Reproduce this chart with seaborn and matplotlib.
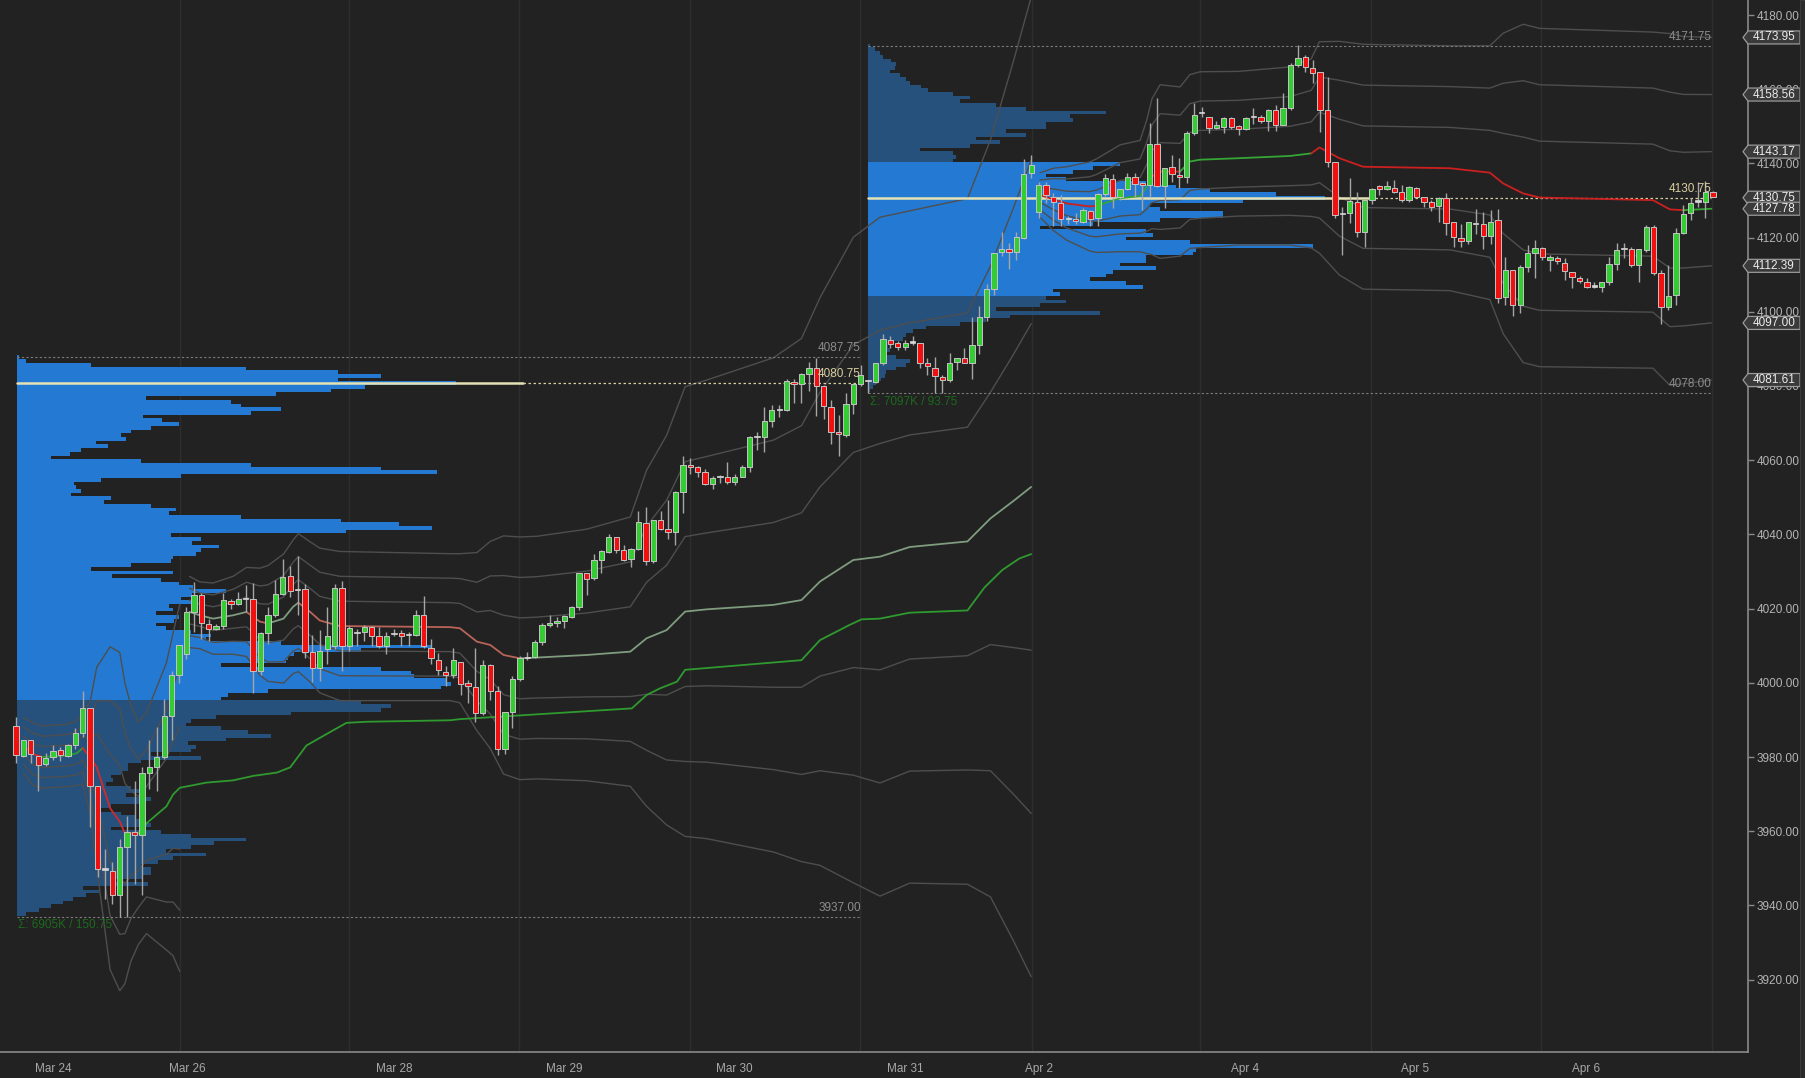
import numpy as np
import pandas as pd
import matplotlib
matplotlib.use("Agg")
import matplotlib.pyplot as plt
from matplotlib.patches import Polygon, Rectangle
from matplotlib.transforms import blended_transform_factory
import seaborn as sns

# ---------------- DATA ----------------
# hourly candles (bar index 0..229)
opens = [
    3988.4, 3980.4, 3984.5, 3980.4, 3978.1, 3979.9, 3981.8, 3980.4, 3983.1, 3986.5,
    3993.3, 3972.2, 3949.6, 3949.4, 3942.7, 3955.8, 3959.9, 3959.0, 3975.6, 3977.2,
    3979.9, 3991.0, 4002.2, 4007.7, 4019.1, 4023.8, 4015.9, 4014.5, 4015.4, 4022.1,
    4021.2, 4022.5, 4022.5, 4003.1, 4013.3, 4018.2, 4023.9, 4028.7, 4025.0, 4025.3,
    4008.4, 4004.1, 4009.1, 4010.0, 4025.5, 4010.0, 4013.3, 4013.6, 4015.0, 4012.5,
    4010.0, 4013.2, 4013.4, 4012.9, 4013.0, 4018.4, 4009.5, 4006.1, 4003.0,
    4002.1, 4005.7, 3999.9, 3999.0, 3991.8, 4004.8, 3997.9, 3982.1, 3992.2, 4000.9,
    4006.6, 4006.9, 4011.1, 4015.6, 4016.0, 4016.7, 4017.8, 4020.5, 4029.5, 4028.2,
    4033.1, 4035.3, 4039.2, 4035.8, 4033.3, 4036.0, 4043.0, 4032.9, 4043.9, 4041.5,
    4040.7, 4051.5, 4058.7, 4058.1, 4056.7, 4053.6, 4055.4, 4055.6, 4054.2, 4055.6,
    4058.1, 4066.3, 4066.2, 4070.7, 4073.4, 4073.5, 4081.2, 4080.5, 4083.2, 4084.8,
    4080.0, 4074.4, 4067.5, 4066.8, 4075.2, 4080.5,
    4081.4, 4081.2, 4086.1, 4092.4, 4091.5, 4090.6, 4091.7, 4091.7, 4086.1, 4084.8,
    4082.3, 4081.6, 4086.6, 4087.5, 4086.1, 4091.1, 4098.5, 4106.1, 4116.0, 4116.8,
    4116.0, 4119.8, 4137.3, 4127.0, 4134.2, 4131.0, 4129.4, 4125.0, 4125.1, 4124.3,
    4127.3, 4125.2, 4131.7, 4135.7, 4130.9, 4133.0, 4136.2, 4134.6, 4134.2, 4145.2,
    4134.0, 4139.0, 4136.9, 4136.4, 4148.1, 4153.5, 4152.4, 4149.6, 4149.9, 4152.2,
    4150.1, 4149.2, 4152.4, 4152.6, 4151.3, 4154.4, 4150.4, 4154.8, 4166.5,
    4168.6, 4165.6, 4164.7, 4154.4, 4140.4, 4126.4, 4126.5, 4129.7, 4121.6, 4130.1,
    4134.0, 4133.0, 4133.5, 4132.4, 4130.1, 4133.5, 4131.0, 4129.7, 4128.5, 4130.8,
    4124.3, 4119.8, 4119.2, 4124.0, 4123.6, 4120.4, 4124.7, 4104.1, 4111.3, 4101.8,
    4112.2, 4115.8, 4117.1, 4114.0, 4114.4, 4113.2, 4110.8, 4109.0, 4108.1, 4106.8,
    4106.8, 4107.9, 4113.0, 4116.8, 4116.8, 4112.6, 4116.6, 4122.8, 4110.5, 4101.4,
    4104.5, 4121.3, 4126.5, 4129.7, 4129.7, 4132.4,
]
closes = [
    3980.5, 3984.5, 3980.8, 3977.8, 3979.6, 3981.5, 3980.5, 3983.1, 3986.5, 3993.3,
    3972.2, 3949.8, 3949.6, 3942.7, 3955.8, 3959.9, 3959.0, 3975.6, 3977.2, 3979.9,
    3991.0, 4002.2, 4010.2, 4019.1, 4023.8, 4016.2, 4014.5, 4015.4, 4022.3, 4021.2,
    4022.6, 4022.5, 4003.1, 4013.3, 4018.4, 4023.9, 4028.5, 4024.8, 4025.0, 4008.2,
    4004.1, 4008.6, 4012.7, 4025.5, 4010.0, 4014.7, 4013.3, 4015.0, 4012.7, 4009.8,
    4012.7, 4013.2, 4012.5, 4012.9, 4018.4, 4010.0, 4006.8, 4003.4, 4002.2,
    4006.1, 3999.7, 3999.1, 3991.8, 4004.8, 3997.9, 3982.1, 3992.2, 4000.9, 4006.6,
    4006.6, 4011.1, 4015.6, 4016.0, 4016.7, 4018.0, 4020.3, 4029.5, 4027.9, 4033.1,
    4035.6, 4039.2, 4035.8, 4033.1, 4036.0, 4043.4, 4032.9, 4043.9, 4041.4, 4040.7,
    4051.5, 4058.7, 4058.1, 4056.9, 4053.6, 4055.1, 4055.7, 4054.2, 4055.6, 4058.1,
    4066.3, 4066.3, 4070.7, 4073.4, 4073.8, 4081.4, 4080.5, 4083.2, 4084.8, 4080.0,
    4074.6, 4067.5, 4067.1, 4075.2, 4080.5, 4083.0,
    4081.4, 4086.1, 4092.6, 4091.3, 4090.4, 4091.5, 4091.7, 4086.3, 4085.4, 4082.7,
    4081.6, 4086.1, 4087.5, 4086.3, 4091.1, 4098.7, 4106.1, 4115.8, 4116.8, 4116.0,
    4120.1, 4137.1, 4139.6, 4134.2, 4131.5, 4129.7, 4125.0, 4125.0, 4124.6, 4127.5,
    4125.0, 4131.7, 4136.0, 4130.9, 4133.0, 4136.4, 4134.4, 4134.2, 4145.2, 4134.0,
    4138.7, 4137.2, 4136.4, 4148.1, 4153.1, 4153.5, 4149.5, 4150.4, 4152.2, 4149.9,
    4149.2, 4152.2, 4152.4, 4151.3, 4154.4, 4150.4, 4154.8, 4166.5, 4168.3,
    4165.9, 4164.4, 4154.4, 4140.4, 4126.1, 4126.4, 4129.9, 4121.6, 4130.1, 4133.0,
    4133.1, 4133.9, 4132.4, 4130.1, 4133.7, 4131.0, 4129.7, 4128.2, 4130.8, 4124.0,
    4120.1, 4119.2, 4124.3, 4123.6, 4120.4, 4124.3, 4103.6, 4111.3, 4101.8, 4112.2,
    4115.8, 4117.1, 4114.7, 4114.9, 4113.8, 4111.1, 4109.3, 4108.4, 4106.8, 4106.8,
    4107.9, 4112.9, 4116.6, 4116.8, 4112.6, 4116.8, 4122.8, 4110.5, 4101.4, 4104.3,
    4121.2, 4126.4, 4129.2, 4129.7, 4132.4, 4131.0,
]
highs = [
    3990.7, 3984.5, 3984.5, 3980.4, 3981.0, 3983.1, 3982.6, 3983.5, 3987.8, 3997.7,
    3993.3, 3972.2, 3955.3, 3951.7, 3958.0, 3964.0, 3973.5, 3977.2, 3984.5, 3988.1,
    3995.6, 4003.1, 4010.2, 4020.5, 4027.3, 4024.1, 4017.3, 4015.9, 4024.1, 4022.7,
    4024.6, 4026.4, 4026.8, 4013.8, 4020.5, 4027.7, 4033.5, 4031.4, 4034.1, 4026.6,
    4013.0, 4014.1, 4020.5, 4026.6, 4027.5, 4015.3, 4014.5, 4015.6, 4015.4, 4015.0,
    4013.8, 4014.5, 4014.1, 4013.6, 4019.5, 4023.5, 4011.8, 4008.1, 4004.5,
    4009.3, 4005.7, 4000.8, 4009.3, 4006.1, 4005.2, 3999.1, 3992.2, 4001.7, 4007.1,
    4008.4, 4011.5, 4016.0, 4018.3, 4017.8, 4018.3, 4020.7, 4029.7, 4029.5, 4034.7,
    4035.8, 4040.1, 4039.2, 4037.1, 4036.3, 4046.4, 4047.5, 4043.9, 4046.4, 4049.3,
    4051.6, 4061.0, 4060.5, 4058.5, 4057.5, 4055.8, 4056.0, 4059.6, 4056.3, 4058.7,
    4066.5, 4067.7, 4074.4, 4074.9, 4074.9, 4081.8, 4081.8, 4083.6, 4086.4, 4087.6,
    4080.0, 4076.2, 4072.2, 4078.0, 4080.5, 4085.7,
    4081.6, 4086.3, 4094.0, 4093.5, 4092.0, 4092.4, 4093.5, 4091.7, 4087.5, 4087.9,
    4082.9, 4088.8, 4087.5, 4090.2, 4098.5, 4101.6, 4107.5, 4115.8, 4121.6, 4118.5,
    4121.6, 4141.1, 4142.3, 4135.1, 4135.1, 4131.9, 4131.5, 4125.7, 4126.7, 4127.9,
    4127.5, 4131.9, 4137.2, 4137.2, 4133.0, 4137.3, 4137.3, 4135.1, 4150.8, 4157.5,
    4138.7, 4142.3, 4141.4, 4148.6, 4156.2, 4155.3, 4152.6, 4151.5, 4152.4, 4152.4,
    4150.4, 4152.4, 4154.8, 4153.1, 4154.6, 4155.7, 4158.9, 4167.0, 4171.9,
    4169.2, 4167.9, 4164.7, 4163.2, 4140.4, 4128.3, 4136.0, 4132.4, 4130.1, 4133.3,
    4134.2, 4135.3, 4135.5, 4134.2, 4134.0, 4133.7, 4131.0, 4130.1, 4131.0, 4131.9,
    4124.3, 4123.8, 4124.3, 4127.6, 4127.0, 4127.4, 4127.6, 4114.9, 4111.3, 4112.6,
    4118.0, 4119.3, 4117.5, 4115.3, 4115.0, 4114.4, 4110.8, 4109.6, 4109.0, 4107.9,
    4108.1, 4114.9, 4118.5, 4118.5, 4117.5, 4116.8, 4123.4, 4123.4, 4111.2, 4112.6,
    4122.5, 4128.8, 4130.6, 4135.1, 4135.3, 4132.6,
]
lows = [
    3978.3, 3979.9, 3978.5, 3970.8, 3977.6, 3979.2, 3979.0, 3979.9, 3982.2, 3985.4,
    3961.2, 3947.6, 3941.6, 3940.3, 3936.9, 3936.9, 3945.7, 3942.7, 3971.3, 3970.8,
    3979.5, 3984.5, 3999.9, 4006.3, 4013.6, 4011.8, 4011.3, 4014.1, 4014.5, 4020.0,
    4020.9, 4019.1, 3997.2, 4002.2, 4010.4, 4017.7, 4023.6, 4023.2, 4018.2, 4006.8,
    4000.1, 4000.4, 4005.0, 4009.1, 4003.1, 4008.6, 4010.0, 4011.3, 4010.0, 4009.5,
    4007.7, 4012.5, 4010.0, 4010.0, 4012.5, 4009.5, 4005.0, 4002.2, 3999.2,
    4001.2, 3996.7, 3994.5, 3989.5, 3991.3, 3995.4, 3980.6, 3980.8, 3987.7, 4000.6,
    4006.2, 4006.6, 4010.2, 4015.1, 4015.0, 4014.7, 4017.4, 4019.6, 4023.7, 4027.7,
    4029.7, 4034.9, 4034.9, 4032.9, 4031.3, 4035.8, 4031.8, 4032.2, 4041.2, 4038.7,
    4037.2, 4045.9, 4056.3, 4055.6, 4053.3, 4052.2, 4053.8, 4053.6, 4053.3, 4055.4,
    4056.9, 4062.8, 4062.3, 4069.0, 4071.6, 4073.3, 4075.5, 4075.5, 4078.7, 4071.9,
    4071.0, 4064.5, 4061.1, 4066.3, 4072.5, 4080.0,
    4078.0, 4080.9, 4085.7, 4090.2, 4089.7, 4089.7, 4091.1, 4084.8, 4083.0, 4078.0,
    4078.0, 4081.2, 4084.3, 4086.1, 4081.8, 4088.6, 4097.6, 4104.5, 4115.1, 4111.5,
    4114.0, 4119.5, 4136.0, 4125.2, 4129.2, 4123.0, 4123.0, 4123.7, 4123.7, 4124.0,
    4123.0, 4123.0, 4131.1, 4128.0, 4130.1, 4132.8, 4131.0, 4127.5, 4131.0, 4133.7,
    4127.9, 4135.1, 4133.3, 4134.6, 4147.7, 4152.4, 4148.3, 4149.2, 4148.1, 4149.4,
    4147.7, 4149.0, 4150.6, 4150.8, 4148.6, 4148.8, 4150.4, 4154.4, 4166.1,
    4164.7, 4161.7, 4148.5, 4139.1, 4125.2, 4115.3, 4123.9, 4120.2, 4117.5, 4129.0,
    4131.5, 4132.8, 4131.9, 4129.7, 4129.7, 4131.0, 4128.3, 4127.3, 4124.3, 4120.7,
    4117.6, 4117.6, 4118.3, 4121.1, 4116.8, 4118.4, 4102.5, 4101.8, 4098.9, 4099.8,
    4110.8, 4109.0, 4114.0, 4111.1, 4113.0, 4108.7, 4106.3, 4107.7, 4106.3, 4106.3,
    4105.4, 4107.2, 4111.4, 4114.4, 4112.2, 4107.9, 4116.2, 4109.9, 4096.7, 4100.5,
    4101.8, 4121.1, 4124.7, 4128.2, 4125.2, 4131.0,
]

# volume profile 1 (Mar 24 - Mar 30), one value per point, top 4087.75 -> bottom 3937.75
prof1_top, prof1_bottom = 4087.75, 3937.00
prof1_vah, prof1_val, prof1_poc = 4087.75, 3995.0, 4080.75
prof1_vol = [
    2, 9, 74, 229, 321, 364, 321, 439, 348, 314,
    259, 129, 214, 224, 264, 234, 126, 145, 162, 134,
    114, 104, 109, 79, 91, 64, 53, 34, 124, 234,
    364, 420, 164, 84, 57, 59, 64, 54, 94, 87,
    134, 159, 152, 224, 324, 382, 415, 329, 154, 184,
    175, 202, 184, 179, 156, 154, 114, 74, 156, 95,
    144, 162, 176, 209, 175, 164, 175, 152, 156, 139,
    162, 157, 139, 149, 174, 194, 189, 264, 414, 344,
    277, 271, 269, 204, 364, 394, 397, 429, 434, 424,
    251, 211, 204, 344, 374, 364, 274, 199, 174, 169,
    204, 231, 254, 209, 171, 179, 174, 134, 184, 124,
    111, 111, 104, 94, 96, 89, 114, 124, 109, 134,
    124, 94, 84, 104, 119, 124, 134, 94, 144, 174,
    229, 197, 174, 149, 189, 156, 141, 124, 134, 134,
    126, 99, 131, 66, 82, 69, 56, 46, 34, 22,
    9,
]
# volume profile 2 (Mar 31 - Apr 6), top 4171.75 -> bottom 4078.75
prof2_top, prof2_bottom = 4171.75, 4078.00
prof2_vah, prof2_val, prof2_poc = 4140.5, 4104.5, 4130.75
prof2_vol = [
    2, 7, 12, 15, 23, 28, 27, 22, 32, 38,
    42, 53, 60, 85, 102, 92, 128, 158, 238, 202,
    205, 178, 178, 138, 158, 108, 132, 102, 52, 85,
    88, 85, 252, 225, 205, 178, 198, 278, 308, 342,
    408, 457, 375, 282, 292, 355, 355, 292, 225, 172,
    278, 285, 258, 322, 445, 328, 325, 278, 278, 252,
    288, 245, 238, 222, 258, 275, 185, 192, 178, 198,
    172, 128, 232, 142, 118, 92, 58, 45, 38, 35,
    25, 20, 22, 18, 28, 42, 38, 28, 18, 17,
    13, 8, 5, 2,
]
prof1_sum = "Σ: 6905K / 150.75"
prof2_sum = "Σ: 7097K / 93.75"

# anchored VWAPs: (bar, vwap, colour of the segment that starts here)
vwap_a = [
    (1.0, 3983.1, "r"), (2.3, 3980.8, "r"), (3.6, 3980.0, "g"), (6.8, 3980.4, "g"), (8.2, 3981.0, "g"),
    (9.0, 3982.4, "r"), (10.0, 3979.9, "r"), (10.9, 3977.2, "r"), (12.7, 3966.2, "r"), (14.0, 3962.6, "r"),
    (14.7, 3959.4, "g"), (15.5, 3959.4, "r"), (16.5, 3959.4, "g"), (17.6, 3962.1, "g"), (20.3, 3966.7, "g"),
    (21.2, 3969.9, "g"), (22.1, 3971.7, "g"), (25.7, 3973.1, "g"), (29.3, 3973.7, "g"), (32.0, 3974.9, "g"),
    (35.2, 3975.8, "g"), (37.0, 3977.2, "g"), (39.2, 3983.1, "g"), (42.8, 3987.2, "g"), (44.6, 3989.2, "g"),
    (47.3, 3989.5, "g"), (58.6, 3989.9, "g"), (59.9, 3990.2, "g"), (83.1, 3993.1, "g"), (85.1, 3996.7, "g"),
    (86.9, 3998.5, "g"), (89.2, 4000.3, "g"), (90.3, 4003.5, "g"), (106.0, 4006.1, "g"), (108.5, 4011.5, "g"),
    (112.5, 4015.6, "g"), (114.1, 4017.1, "g"), (116.6, 4017.3, "g"), (120.6, 4018.9, "g"), (128.4, 4019.5, "g"),
    (130.7, 4025.7, "g"), (133.1, 4030.4, "g"), (135.4, 4033.5, "g"), (137.0, 4034.7, "g"),
]
# first-session deviation bands: (bar, centre, sigma)
session0_sd = [
    (1.0, 3983.1, 2.5), (2.3, 3980.8, 2.8), (3.6, 3980.0, 2.8), (6.8, 3980.4, 2.8), (8.2, 3981.0, 2.9),
    (9.0, 3982.4, 3.2), (10.0, 3979.9, 5.0), (10.9, 3977.2, 9.0), (12.7, 3966.2, 14.5), (14.0, 3962.6, 15.2),
    (14.7, 3959.4, 13.5), (15.5, 3959.4, 11.5), (16.5, 3959.4, 10.0), (17.6, 3962.1, 9.9), (20.3, 3966.7, 12.9),
    (21.2, 3969.9, 14.5), (22.1, 3971.7, 16.5),
]
# weekly VWAP (Mar 26 ->): (bar, vwap, sigma, colour)
vwap_b = [
    (23.4, 4019.1, 3.2, "g"), (24.8, 4018.2, 3.0, "g"), (26.6, 4017.3, 3.2, "g"), (29.3, 4018.2, 3.5, "g"),
    (31.1, 4019.1, 4.0, "r"), (32.9, 4016.5, 4.8, "r"), (34.0, 4016.0, 5.2, "g"), (36.1, 4017.3, 5.8, "g"),
    (37.4, 4020.5, 6.0, "g"), (38.1, 4021.6, 6.2, "r"), (39.7, 4019.1, 6.3, "r"), (41.0, 4016.8, 6.5, "r"),
    (43.7, 4015.3, 6.7, "r"), (58.6, 4015.0, 6.6, "r"), (59.9, 4014.7, 6.7, "r"), (62.2, 4011.1, 8.0, "r"),
    (64.0, 4010.2, 9.3, "r"), (65.8, 4007.5, 10.7, "r"), (68.0, 4006.6, 10.9, "g"), (70.3, 4006.8, 10.9, "g"),
    (77.0, 4007.5, 11.3, "g"), (82.9, 4008.4, 12.1, "g"), (85.1, 4012.0, 15.1, "g"), (87.8, 4014.2, 17.5, "g"),
    (90.3, 4019.2, 20.2, "g"), (93.2, 4019.8, 20.6, "g"), (102.2, 4021.0, 22.2, "g"), (106.0, 4022.3, 23.5, "g"),
    (108.5, 4027.3, 25.5, "g"), (113.0, 4033.1, 29.0, "g"), (116.6, 4034.0, 30.5, "g"), (120.6, 4036.6, 30.2, "g"),
    (128.4, 4038.1, 30.8, "g"), (131.5, 4044.3, 34.0, "g"), (134.6, 4049.0, 39.5, "g"), (137.0, 4052.8, 44.0, "g"),
]
# weekly VWAP (Apr 2 ->): (bar, vwap, sigma, colour)
vwap_c = [
    (138.2, 4131.5, 2.0, "r"), (140.0, 4130.3, 2.8, "r"), (141.8, 4129.2, 3.3, "r"), (144.9, 4128.4, 4.0, "r"),
    (145.8, 4128.6, 4.2, "g"), (149.0, 4130.6, 4.8, "g"), (151.7, 4131.2, 5.0, "g"), (152.6, 4133.7, 6.0, "g"),
    (153.3, 4136.4, 7.0, "r"), (154.4, 4137.8, 7.8, "r"), (157.1, 4137.8, 7.6, "g"), (158.4, 4140.5, 7.8, "g"),
    (159.8, 4141.0, 7.9, "g"), (165.0, 4141.4, 7.8, "g"), (171.9, 4142.0, 8.0, "g"), (174.8, 4142.7, 8.5, "r"),
    (175.9, 4144.3, 9.5, "r"), (178.6, 4141.4, 10.5, "r"), (181.8, 4139.1, 11.0, "r"), (193.5, 4138.7, 11.0, "r"),
    (198.9, 4137.5, 11.4, "r"), (200.7, 4134.6, 13.5, "r"), (203.4, 4131.9, 15.2, "r"), (205.6, 4130.8, 15.2, "r"),
    (220.9, 4130.1, 15.1, "r"), (223.2, 4127.6, 15.8, "r"), (225.0, 4127.4, 15.6, "g"), (228.8, 4127.78, 15.39, "g"),
]

# right axis markers
marker_values = [4173.95, 4158.56, 4143.17, 4130.75, 4127.78, 4112.39, 4097.00, 4081.61]

# time axis
date_ticks = [5.0, 23.1, 28.1, 51.0, 74.0, 97.0, 120.0, 138.1, 143.0, 165.9, 188.8, 211.9]
date_labels = ["Mar 24", "Mar 26", "", "Mar 28", "Mar 29", "Mar 30", "Mar 31", "Apr 2", "", "Apr 4", "Apr 5", "Apr 6"]
day_grid = [22.1, 45.0, 67.9, 90.9, 113.9, 137.1, 159.8, 182.9, 205.8, 228.9]
price_ticks = list(range(3920, 4181, 20))

# ---------------- STYLE ----------------
BG = "#222222"
PX_PER_BAR = 7.41
W, H = 1806, 1078
sns.set_theme(style="dark", rc={
    "axes.facecolor": BG, "figure.facecolor": BG, "savefig.facecolor": BG,
    "axes.edgecolor": "#8a8a8a", "axes.grid": False,
})
plt.rcParams["font.family"] = ["Liberation Sans", "DejaVu Sans"]

fig = plt.figure(figsize=(W / 100, H / 100), dpi=100)
ax = fig.add_axes([0, 26 / H, 1748 / W, 1052 / H])
ax.set_xlim(-16 / PX_PER_BAR, (1748 - 16) / PX_PER_BAR)
ax.set_ylim(4180 - (1052 - 15) / 3.71, 4180 + 15 / 3.71)

for g in day_grid:
    ax.axvline(g, color="#2e2e2e", lw=1.0, zorder=0.6)

# ---------------- VOLUME PROFILES ----------------
def draw_profile(vol, top, bottom, vah, val, poc, left, right, poc_solid_end, total_txt):
    vol = np.asarray(vol, dtype=float)
    levels = np.linspace(top, top - (len(vol) - 1), len(vol))
    widths = vol / PX_PER_BAR
    inva = (levels <= vah + 0.01) & (levels >= val - 0.01)
    ax.barh(levels[inva], widths[inva], left=left, height=1.0, color="#247ad2", lw=0, zorder=1)
    ax.barh(levels[~inva], widths[~inva], left=left, height=1.0, color="#26517d", lw=0, zorder=1)
    for y in (top, bottom):
        ax.plot([left, right], [y, y], color="#7c7c7c", lw=0.8, ls=(0, (2, 2)), zorder=3)
    ax.plot([left, poc_solid_end], [poc, poc], color="#e6e2b6", lw=1.8, zorder=3)
    ax.plot([poc_solid_end, right], [poc, poc], color="#d6d0a0", lw=0.9, ls=(0, (2, 2)), zorder=3)
    ax.text(right, top + 0.8, f"{top:.2f}", ha="right", va="bottom", color="#8c8c8c", fontsize=8.5, zorder=8)
    ax.text(right, poc + 0.8, f"{poc:.2f}", ha="right", va="bottom", color="#d8d0a0", fontsize=8.5, zorder=8)
    ax.text(right, bottom + 0.8, f"{bottom:.2f}", ha="right", va="bottom", color="#8c8c8c", fontsize=8.5, zorder=8)
    ax.text(left + 0.2, bottom - 2.4, total_txt, ha="left", va="center", color="#1c6a1c", fontsize=8.5, zorder=8)

draw_profile(prof1_vol, prof1_top, prof1_bottom, prof1_vah, prof1_val, prof1_poc,
             0.1, 114.0, 68.4, prof1_sum)
draw_profile(prof2_vol, prof2_top, prof2_bottom, prof2_vah, prof2_val, prof2_poc,
             115.0, 228.8, 182.7, prof2_sum)

# ---------------- BANDS / VWAP ----------------
BAND = "#4e4e4e"

def draw_bands(bars_, centre, sd):
    centre, sd = np.asarray(centre), np.asarray(sd)
    for k in (1, 2, 3):
        for sign in (1, -1):
            sns.lineplot(x=bars_, y=centre + sign * k * sd, ax=ax, color=BAND, lw=1.0,
                         sort=False, estimator=None, legend=False, zorder=2)

def draw_line(bars_, vals, cols, green, red, lw):
    start = 0
    for i in range(1, len(bars_)):
        if i == len(bars_) - 1 or cols[i] != cols[start]:
            sns.lineplot(x=bars_[start:i + 1], y=vals[start:i + 1], ax=ax,
                         color=green if cols[start] == "g" else red, lw=lw,
                         sort=False, estimator=None, legend=False, zorder=4)
            start = i

s0 = list(zip(*session0_sd))
draw_bands(list(s0[0]), s0[1], s0[2])
vb = list(zip(*vwap_b))
draw_bands(list(vb[0]), vb[1], vb[2])
vc = list(zip(*vwap_c))
draw_bands(list(vc[0]), vc[1], vc[2])

va = list(zip(*vwap_a))
draw_line(list(va[0]), list(va[1]), list(va[2]), "#2f9a2f", "#d42a2a", 1.3)
draw_line(list(vb[0]), list(vb[1]), list(vb[3]), "#7f9c7f", "#b86458", 1.3)
draw_line(list(vc[0]), list(vc[1]), list(vc[3]), "#35a535", "#cc2020", 1.3)

# ---------------- CANDLES ----------------
o, h, l, c = (np.asarray(a) for a in (opens, highs, lows, closes))
bars = np.arange(len(o))
up = c > o + 0.25
dn = c < o - 0.25
flat = ~(up | dn)
ax.vlines(bars, l, h, color="#a6a6a6", lw=1.0, zorder=5)
body_lo = np.minimum(o, c)
body_h = np.maximum(np.abs(c - o), 0.35)
ax.bar(bars[up], body_h[up], bottom=body_lo[up], width=0.72, color="#33cc33",
       edgecolor="#c4c4c4", lw=0.7, zorder=6)
ax.bar(bars[dn], body_h[dn], bottom=body_lo[dn], width=0.72, color="#f01010",
       edgecolor="#c4c4c4", lw=0.7, zorder=6)
ax.bar(bars[flat], body_h[flat], bottom=body_lo[flat], width=0.72, color="#d8d8d8",
       edgecolor="#d8d8d8", lw=0.5, zorder=6)

# ---------------- AXES ----------------
for s in ("left", "top"):
    ax.spines[s].set_visible(False)
for s in ("right", "bottom"):
    ax.spines[s].set_color("#8a8a8a")
    ax.spines[s].set_linewidth(1.2)
ax.yaxis.tick_right()
ax.set_yticks(price_ticks)
ax.set_yticklabels([f"{v:.2f}" for v in price_ticks])
ax.tick_params(axis="y", colors="#8a8a8a", labelcolor="#b4b4b4", labelsize=8.5, length=4, width=1, pad=2)
ax.set_xticks(date_ticks)
ax.set_xticklabels(date_labels)
ax.tick_params(axis="x", colors="#8a8a8a", labelcolor="#a8a8a8", labelsize=8.5, length=4, width=1, pad=4)
ax.set_xlabel("")
ax.set_ylabel("")

# right-hand price markers
trans = blended_transform_factory(fig.transFigure, ax.transData)
half = 6.5 / 3.71
for v in marker_values:
    poly = Polygon([(1743 / W, v), (1748 / W, v + half), (1800 / W, v + half),
                    (1800 / W, v - half), (1748 / W, v - half)], closed=True,
                   transform=trans, facecolor="#3a3a3a", edgecolor="#9a9a9a", lw=0.9,
                   clip_on=False, zorder=20)
    ax.add_patch(poly)
    ax.text(1774 / W, v, f"{v:.2f}", transform=trans, ha="center", va="center",
            color="#ececec", fontsize=8.5, zorder=21, clip_on=False)

fig.add_artist(Rectangle((1800 / W, 0), 6 / W, 1, transform=fig.transFigure,
                         facecolor="#2b2b2b", edgecolor="#3a3a3a", lw=0.8))

fig.savefig("out.png", dpi=100, facecolor=BG)
